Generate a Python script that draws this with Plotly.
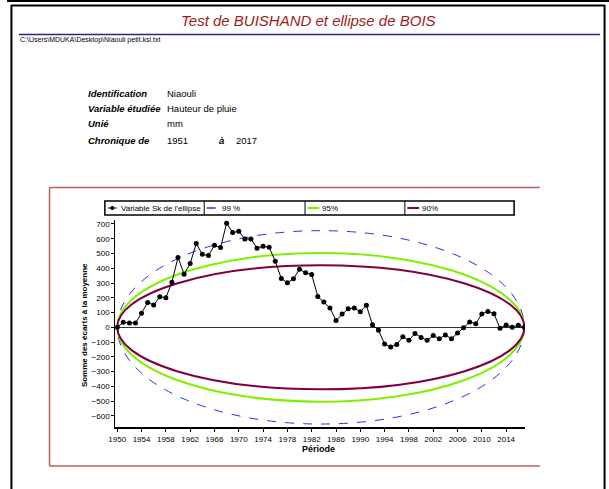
import plotly.graph_objects as go

W, H = 609, 489

# --- data ---
years = list(range(1950, 2018))
sk = [0, 34, 30, 30, 95, 169, 151, 207, 200, 306,
      473, 360, 432, 567, 495, 486, 556, 540, 705, 642,
      650, 599, 599, 536, 549, 542, 448, 331, 302, 329,
      394, 369, 358, 209, 171, 131, 47, 90, 126, 131,
      106, 149, 18, -20, -113, -133, -117, -63, -88, -41,
      -68, -88, -56, -77, -52, -77, -38, -2, 36, 25,
      90, 108, 92, -7, 16, 0, 14, 0]

ellipse_names = ["99 %", "95%", "90%"]
ellipse_half = [655, 504, 420]          # semi-axis of Bois ellipses
ellipse_colors = ["#2b2bff", "#80f000", "#800040"]
ellipse_dash = ["dash", "solid", "solid"]

x_ticks = list(range(1950, 2018, 4))
y_ticks = list(range(-600, 800, 100))

info_labels = ["Identification", "Variable étudiée", "Unié", "Chronique de"]
info_values = ["Niaouli", "Hauteur de pluie", "mm", "1951"]


def px(x):
    return x / W


def py(y):
    return 1 - y / H


fig = go.Figure()

fig.add_trace(go.Scatter(
    x=years, y=sk, mode="lines+markers",
    line=dict(color="black", width=1),
    marker=dict(color="black", size=5),
    showlegend=False, hoverinfo="x+y",
))

shapes = []
for name, h, c, d in zip(ellipse_names, ellipse_half, ellipse_colors, ellipse_dash):
    shapes.append(dict(type="circle", xref="x", yref="y",
                       x0=years[0], x1=years[-1], y0=-h, y1=h,
                       line=dict(color=c, width=1 if d == "dash" else 2, dash=d),
                       layer="below"))

# page frame
shapes += [
    dict(type="rect", xref="paper", yref="paper", x0=0, x1=1, y0=py(2), y1=1,
         fillcolor="black", line=dict(width=0)),
    dict(type="line", xref="paper", yref="paper", x0=px(4), x1=px(605), y0=py(5.5), y1=py(5.5),
         line=dict(color="black", width=2)),
    dict(type="line", xref="paper", yref="paper", x0=px(4.5), x1=px(4.5), y0=py(5), y1=0,
         line=dict(color="black", width=2)),
    dict(type="line", xref="paper", yref="paper", x0=px(604.5), x1=px(604.5), y0=py(5), y1=0,
         line=dict(color="black", width=2)),
    # title underline
    dict(type="line", xref="paper", yref="paper", x0=px(12), x1=px(600), y0=py(34.5), y1=py(34.5),
         line=dict(color="#24248a", width=1.5)),
    # chart frame
    dict(type="line", xref="paper", yref="paper", x0=px(43), x1=px(539), y0=py(187.5), y1=py(187.5),
         line=dict(color="#b86060", width=1.5)),
    dict(type="line", xref="paper", yref="paper", x0=px(43), x1=px(539), y0=py(466), y1=py(466),
         line=dict(color="#b86060", width=1.5)),
    dict(type="line", xref="paper", yref="paper", x0=px(43), x1=px(43), y0=py(187.5), y1=py(466),
         line=dict(color="#b86060", width=1.5)),
    # legend box
    dict(type="rect", xref="paper", yref="paper", x0=px(99), x1=px(513), y0=py(215), y1=py(201),
         line=dict(color="black", width=1.5), fillcolor="white"),
]
for xd in [199.5, 301.5, 402.5]:
    shapes.append(dict(type="line", xref="paper", yref="paper", x0=px(xd), x1=px(xd),
                       y0=py(201), y1=py(215), line=dict(color="black", width=1)))
# legend samples
shapes.append(dict(type="line", xref="paper", yref="paper", x0=px(102), x1=px(111),
                   y0=py(208), y1=py(208), line=dict(color="black", width=1)))
shapes.append(dict(type="circle", xref="paper", yref="paper", x0=px(104.5), x1=px(108.5),
                   y0=py(206), y1=py(210), fillcolor="black", line=dict(color="black", width=0)))
for xs, c, d in zip([202, 304, 405], ellipse_colors, ellipse_dash):
    shapes.append(dict(type="line", xref="paper", yref="paper", x0=px(xs), x1=px(xs + 12),
                       y0=py(208), y1=py(208),
                       line=dict(color=c, width=1.5 if d == "dash" else 2, dash=d)))

ann = []
ann.append(dict(text="<i>Test de BUISHAND et ellipse de BOIS</i>", x=px(305), y=py(21),
                xanchor="center",
                font=dict(size=15, color="#9e1b1b")))
ann.append(dict(text="C:\\Users\\MDUKA\\Desktop\\Niaouli petit.ksl.txt", x=px(11), y=py(40.5),
                xanchor="left", font=dict(size=7, color="black")))
rows_y = [94, 108, 123, 140]
for lab, val, yy in zip(info_labels, info_values, rows_y):
    ann.append(dict(text="<b><i>" + lab + "</i></b>", x=px(80), y=py(yy), xanchor="left",
                    font=dict(size=9.5, color="black")))
    ann.append(dict(text=val, x=px(160), y=py(yy), xanchor="left",
                    font=dict(size=9.5, color="black")))
ann.append(dict(text="<b><i>à</i></b>", x=px(212), y=py(140), xanchor="left",
                font=dict(size=9.5, color="black")))
ann.append(dict(text="2017", x=px(230), y=py(140), xanchor="left",
                font=dict(size=9.5, color="black")))
# legend texts
ann.append(dict(text="Variable Sk de l'ellipse", x=px(113), y=py(208), xanchor="left",
                font=dict(size=8, color="black")))
for xs, name in zip([215, 317, 418], ellipse_names):
    ann.append(dict(text=name, x=px(xs), y=py(208), xanchor="left",
                    font=dict(size=8, color="black")))
# axis titles
ann.append(dict(text="<b>Somme des écarts à la moyenne</b>", x=px(78), y=py(325),
                xanchor="center", textangle=-90, font=dict(size=8, color="black")))
ann.append(dict(text="<b>Période</b>", x=px(315), y=py(449), xanchor="center",
                font=dict(size=9, color="black")))

for a in ann:
    a.setdefault("xref", "paper")
    a.setdefault("yref", "paper")
    a.setdefault("yanchor", "middle")
    a.setdefault("showarrow", False)

fig.update_layout(
    width=W, height=H,
    margin=dict(l=0, r=0, t=0, b=0),
    paper_bgcolor="white", plot_bgcolor="white",
    font=dict(family="Liberation Sans, Arial, sans-serif", size=8, color="black"),
    shapes=shapes, annotations=ann,
    showlegend=False,
    xaxis=dict(domain=[px(109.5), px(524)], range=[1949.67, 2017.1],
               tickvals=x_ticks, ticks="outside", ticklen=3, tickcolor="black",
               showline=True, linecolor="black", linewidth=2, showgrid=False,
               zeroline=False, tickfont=dict(size=8)),
    yaxis=dict(domain=[py(427), py(220)], range=[-675, 727],
               tickvals=y_ticks, ticks="outside", ticklen=3, tickcolor="black",
               showline=True, linecolor="black", linewidth=1, showgrid=False,
               zeroline=True, zerolinecolor="#333333", zerolinewidth=1,
               tickfont=dict(size=8)),
)

fig.write_html("out.html", config={"displayModeBar": False},
               post_script="document.body.style.margin='0px';")
